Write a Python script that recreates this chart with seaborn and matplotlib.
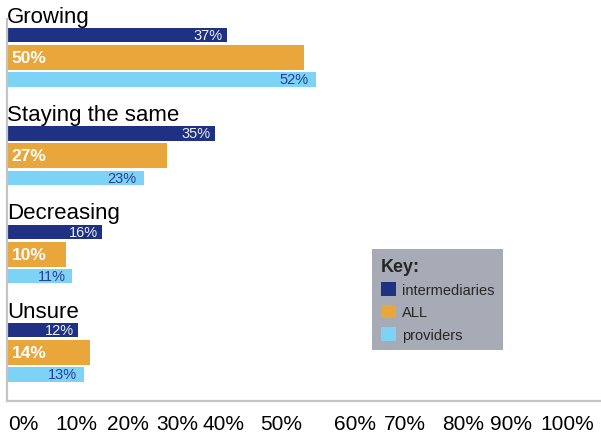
import numpy as np
import pandas as pd
import matplotlib
matplotlib.use("Agg")
import matplotlib.pyplot as plt
import seaborn as sns

# Survey answers per outlook, percentage of respondents in each group
categories = ["Growing", "Staying the same", "Decreasing", "Unsure"]
series_names = ["intermediaries", "ALL", "providers"]
intermediaries = [37, 35, 16, 12]
all_respondents = [50, 27, 10, 14]
providers = [52, 23, 11, 13]

tick_values = [0, 10, 20, 30, 40, 50, 60, 70, 80, 90, 100]
tick_labels = [f"{v}%" for v in tick_values]

colors = {"intermediaries": "#1e3183", "ALL": "#e9a63b", "providers": "#7dd3f5"}

df = pd.DataFrame({
    "category": np.repeat(categories, len(series_names)),
    "series": series_names * len(categories),
    "value": [v for trio in zip(intermediaries, all_respondents, providers) for v in trio],
})

sns.set_style("white")
plt.rcParams["font.family"] = ["Liberation Sans", "DejaVu Sans"]

W, H = 601, 439
fig = plt.figure(figsize=(W / 100, H / 100), dpi=100)
# axes frame in pixel terms: x 7..601, y 20..402 (from top)
ax = fig.add_axes([7 / W, 1 - 402 / H, (601 - 7) / W, (402 - 20) / H])

sns.barplot(data=df, x="value", y="category", hue="series", hue_order=series_names,
            order=categories, palette=colors, orient="h", dodge=True,
            saturation=1, errorbar=None, ax=ax)

# group layout (one category step = 98.3 px)
step = 98.3
bar_layout = {            # top offset from group centre, height (px)
    "intermediaries": (-29.3, 14.4),
    "ALL": (-12.3, 25.0),
    "providers": (15.0, 14.4),
}
for cont, name in zip(ax.containers, series_names):
    top, h = bar_layout[name]
    for patch in cont:
        yc = round(patch.get_y() + patch.get_height() / 2)
        patch.set_y(yc + top / step)
        patch.set_height(h / step)
        patch.set_edgecolor("none")

ax.set_xlim(0, 100)
ax.set_ylim((402 - 58.3) / step, (20 - 58.3) / step)

# value labels
value_series = {"intermediaries": intermediaries, "ALL": all_respondents, "providers": providers}
for name, cont in zip(series_names, ax.containers):
    vals = value_series[name]
    for i, patch in enumerate(cont):
        yc = patch.get_y() + patch.get_height() / 2
        v = vals[i]
        if name == "ALL":
            ax.annotate(f"{v}%", xy=(0, yc), xytext=(3.4, 0), textcoords="offset points",
                        ha="left", va="center", color="white", fontsize=12.5,
                        fontweight="bold")
        elif name == "intermediaries":
            ax.annotate(f"{v}%", xy=(v, yc), xytext=(-3, 0), textcoords="offset points",
                        ha="right", va="center", color="#eef0f8", fontsize=10.5)
        else:
            ax.annotate(f"{v}%", xy=(v, yc), xytext=(-5, 0), textcoords="offset points",
                        ha="right", va="center", color="#2b3c93", fontsize=10.5)

# category headings above each group
for i, cat in enumerate(categories):
    ax.text(0, i + (-29.3 - 6.3) / step, cat, ha="left", va="baseline",
            fontsize=16, color="black")

# x tick labels sit in an evenly spread row under the axis
tick_label_x = [2.7, 11.6, 20.4, 28.6, 36.5, 46.1, 58.6, 67.0, 76.8, 84.9, 94.3]
ax.set_xticks(tick_label_x)
ax.set_xticklabels(tick_labels, fontsize=15)
ax.tick_params(axis="x", length=0, pad=9.5, colors="black")
ax.set_yticks([])
ax.set_xlabel("")
ax.set_ylabel("")

for side in ["top", "right"]:
    ax.spines[side].set_visible(False)
for side in ["left", "bottom"]:
    ax.spines[side].set_color("#c4c4c4")
    ax.spines[side].set_linewidth(1.6)

sns.move_legend(ax, "upper left", bbox_to_anchor=(372 / W, 1 - 250 / H),
                bbox_transform=fig.transFigure, title="Key:", alignment="left",
                frameon=True, fancybox=False, facecolor="#a7abb5", edgecolor="none",
                framealpha=1, fontsize=10.5, title_fontsize=13,
                handlelength=1.05, handleheight=1.05, handletextpad=0.4,
                labelspacing=0.52, borderpad=0.6, borderaxespad=0)
leg = ax.get_legend()
leg.get_title().set_fontweight("bold")
for hnd in leg.legend_handles:
    hnd.set_edgecolor("none")

fig.savefig("out.png", dpi=100)
